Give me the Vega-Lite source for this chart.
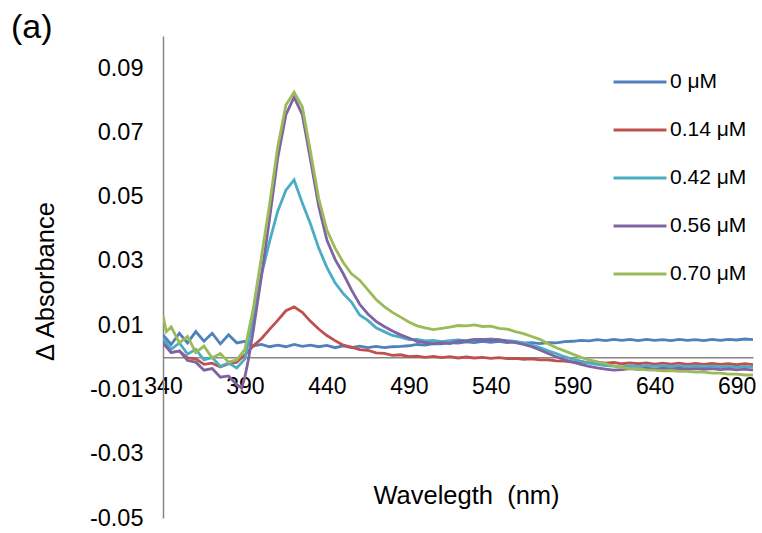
{
  "$schema": "https://vega.github.io/schema/vega-lite/v6.json",
  "autosize": "none",
  "width": 590,
  "height": 482,
  "padding": {"left": 163, "top": 36, "right": 9, "bottom": 15},
  "background": "white",
  "title": {"text": "(a)", "anchor": "start", "frame": "group", "dx": -152, "dy": 32, "offset": 6, "baseline": "middle", "fontSize": 34, "fontWeight": "normal", "font": "Liberation Sans", "color": "#000000"},
  "config": {
    "view": {"stroke": null},
    "font": "Liberation Sans"
  },
  "data": {"values": [
{"nm":340,"s":"0 μM","v":0.007},{"nm":345,"s":"0 μM","v":0.004},{"nm":350,"s":"0 μM","v":0.0075},{"nm":355,"s":"0 μM","v":0.0045},{"nm":360,"s":"0 μM","v":0.008},{"nm":365,"s":"0 μM","v":0.005},{"nm":370,"s":"0 μM","v":0.0075},{"nm":375,"s":"0 μM","v":0.0042},{"nm":380,"s":"0 μM","v":0.007},{"nm":385,"s":"0 μM","v":0.0045},{"nm":390,"s":"0 μM","v":0.005},{"nm":395,"s":"0 μM","v":0.0035},{"nm":400,"s":"0 μM","v":0.004},{"nm":405,"s":"0 μM","v":0.0033},{"nm":410,"s":"0 μM","v":0.0038},{"nm":415,"s":"0 μM","v":0.0033},{"nm":420,"s":"0 μM","v":0.004},{"nm":425,"s":"0 μM","v":0.0034},{"nm":430,"s":"0 μM","v":0.0038},{"nm":435,"s":"0 μM","v":0.0033},{"nm":440,"s":"0 μM","v":0.0037},{"nm":445,"s":"0 μM","v":0.003},{"nm":450,"s":"0 μM","v":0.0036},{"nm":455,"s":"0 μM","v":0.003},{"nm":460,"s":"0 μM","v":0.0035},{"nm":465,"s":"0 μM","v":0.003},{"nm":470,"s":"0 μM","v":0.0034},{"nm":475,"s":"0 μM","v":0.003},{"nm":480,"s":"0 μM","v":0.0033},{"nm":485,"s":"0 μM","v":0.0034},{"nm":490,"s":"0 μM","v":0.0036},{"nm":495,"s":"0 μM","v":0.004},{"nm":500,"s":"0 μM","v":0.0038},{"nm":505,"s":"0 μM","v":0.0043},{"nm":510,"s":"0 μM","v":0.0042},{"nm":515,"s":"0 μM","v":0.0046},{"nm":520,"s":"0 μM","v":0.0044},{"nm":525,"s":"0 μM","v":0.0048},{"nm":530,"s":"0 μM","v":0.0046},{"nm":535,"s":"0 μM","v":0.005},{"nm":540,"s":"0 μM","v":0.0047},{"nm":545,"s":"0 μM","v":0.005},{"nm":550,"s":"0 μM","v":0.0046},{"nm":555,"s":"0 μM","v":0.0048},{"nm":560,"s":"0 μM","v":0.0044},{"nm":565,"s":"0 μM","v":0.0046},{"nm":570,"s":"0 μM","v":0.0043},{"nm":575,"s":"0 μM","v":0.0046},{"nm":580,"s":"0 μM","v":0.0045},{"nm":585,"s":"0 μM","v":0.0049},{"nm":590,"s":"0 μM","v":0.005},{"nm":595,"s":"0 μM","v":0.0053},{"nm":600,"s":"0 μM","v":0.0051},{"nm":605,"s":"0 μM","v":0.0055},{"nm":610,"s":"0 μM","v":0.0052},{"nm":615,"s":"0 μM","v":0.0056},{"nm":620,"s":"0 μM","v":0.0053},{"nm":625,"s":"0 μM","v":0.0056},{"nm":630,"s":"0 μM","v":0.0052},{"nm":635,"s":"0 μM","v":0.0056},{"nm":640,"s":"0 μM","v":0.0053},{"nm":645,"s":"0 μM","v":0.0055},{"nm":650,"s":"0 μM","v":0.0052},{"nm":655,"s":"0 μM","v":0.0056},{"nm":660,"s":"0 μM","v":0.0053},{"nm":665,"s":"0 μM","v":0.0055},{"nm":670,"s":"0 μM","v":0.0052},{"nm":675,"s":"0 μM","v":0.0056},{"nm":680,"s":"0 μM","v":0.0053},{"nm":685,"s":"0 μM","v":0.0056},{"nm":690,"s":"0 μM","v":0.0054},{"nm":695,"s":"0 μM","v":0.0057},{"nm":700,"s":"0 μM","v":0.0055},
{"nm":340,"s":"0.14 μM","v":0.0045},{"nm":345,"s":"0.14 μM","v":0.0015},{"nm":350,"s":"0.14 μM","v":0.002},{"nm":355,"s":"0.14 μM","v":-0.0002},{"nm":360,"s":"0.14 μM","v":-0.0005},{"nm":365,"s":"0.14 μM","v":-0.0022},{"nm":370,"s":"0.14 μM","v":-0.0018},{"nm":375,"s":"0.14 μM","v":-0.003},{"nm":380,"s":"0.14 μM","v":-0.002},{"nm":385,"s":"0.14 μM","v":-0.0015},{"nm":390,"s":"0.14 μM","v":0.0008},{"nm":395,"s":"0.14 μM","v":0.0035},{"nm":400,"s":"0.14 μM","v":0.0058},{"nm":405,"s":"0.14 μM","v":0.0087},{"nm":410,"s":"0.14 μM","v":0.0115},{"nm":415,"s":"0.14 μM","v":0.0145},{"nm":420,"s":"0.14 μM","v":0.0157},{"nm":425,"s":"0.14 μM","v":0.014},{"nm":430,"s":"0.14 μM","v":0.0112},{"nm":435,"s":"0.14 μM","v":0.0088},{"nm":440,"s":"0.14 μM","v":0.0068},{"nm":445,"s":"0.14 μM","v":0.0052},{"nm":450,"s":"0.14 μM","v":0.0038},{"nm":455,"s":"0.14 μM","v":0.0032},{"nm":460,"s":"0.14 μM","v":0.0024},{"nm":465,"s":"0.14 μM","v":0.0022},{"nm":470,"s":"0.14 μM","v":0.0014},{"nm":475,"s":"0.14 μM","v":0.0012},{"nm":480,"s":"0.14 μM","v":0.0006},{"nm":485,"s":"0.14 μM","v":0.0008},{"nm":490,"s":"0.14 μM","v":0.0002},{"nm":495,"s":"0.14 μM","v":0.0004},{"nm":500,"s":"0.14 μM","v":0.0},{"nm":505,"s":"0.14 μM","v":0.0003},{"nm":510,"s":"0.14 μM","v":-0.0001},{"nm":515,"s":"0.14 μM","v":0.0002},{"nm":520,"s":"0.14 μM","v":-0.0002},{"nm":525,"s":"0.14 μM","v":0.0001},{"nm":530,"s":"0.14 μM","v":-0.0002},{"nm":535,"s":"0.14 μM","v":0.0},{"nm":540,"s":"0.14 μM","v":-0.0003},{"nm":545,"s":"0.14 μM","v":-0.0001},{"nm":550,"s":"0.14 μM","v":-0.0004},{"nm":555,"s":"0.14 μM","v":-0.0003},{"nm":560,"s":"0.14 μM","v":-0.0006},{"nm":565,"s":"0.14 μM","v":-0.0005},{"nm":570,"s":"0.14 μM","v":-0.0008},{"nm":575,"s":"0.14 μM","v":-0.0008},{"nm":580,"s":"0.14 μM","v":-0.0011},{"nm":585,"s":"0.14 μM","v":-0.0012},{"nm":590,"s":"0.14 μM","v":-0.0015},{"nm":595,"s":"0.14 μM","v":-0.0014},{"nm":600,"s":"0.14 μM","v":-0.0017},{"nm":605,"s":"0.14 μM","v":-0.0015},{"nm":610,"s":"0.14 μM","v":-0.0018},{"nm":615,"s":"0.14 μM","v":-0.0016},{"nm":620,"s":"0.14 μM","v":-0.002},{"nm":625,"s":"0.14 μM","v":-0.0017},{"nm":630,"s":"0.14 μM","v":-0.002},{"nm":635,"s":"0.14 μM","v":-0.0017},{"nm":640,"s":"0.14 μM","v":-0.0021},{"nm":645,"s":"0.14 μM","v":-0.0018},{"nm":650,"s":"0.14 μM","v":-0.0021},{"nm":655,"s":"0.14 μM","v":-0.0018},{"nm":660,"s":"0.14 μM","v":-0.0022},{"nm":665,"s":"0.14 μM","v":-0.0019},{"nm":670,"s":"0.14 μM","v":-0.0022},{"nm":675,"s":"0.14 μM","v":-0.0019},{"nm":680,"s":"0.14 μM","v":-0.0022},{"nm":685,"s":"0.14 μM","v":-0.002},{"nm":690,"s":"0.14 μM","v":-0.0023},{"nm":695,"s":"0.14 μM","v":-0.002},{"nm":700,"s":"0.14 μM","v":-0.0023},
{"nm":340,"s":"0.42 μM","v":0.006},{"nm":345,"s":"0.42 μM","v":0.0025},{"nm":350,"s":"0.42 μM","v":0.0045},{"nm":355,"s":"0.42 μM","v":0.001},{"nm":360,"s":"0.42 μM","v":0.0025},{"nm":365,"s":"0.42 μM","v":-0.0008},{"nm":370,"s":"0.42 μM","v":0.0},{"nm":375,"s":"0.42 μM","v":-0.0028},{"nm":380,"s":"0.42 μM","v":-0.0018},{"nm":385,"s":"0.42 μM","v":-0.0033},{"nm":390,"s":"0.42 μM","v":-0.0005},{"nm":395,"s":"0.42 μM","v":0.0116},{"nm":400,"s":"0.42 μM","v":0.0255},{"nm":405,"s":"0.42 μM","v":0.036},{"nm":410,"s":"0.42 μM","v":0.0455},{"nm":415,"s":"0.42 μM","v":0.052},{"nm":420,"s":"0.42 μM","v":0.0552},{"nm":425,"s":"0.42 μM","v":0.048},{"nm":430,"s":"0.42 μM","v":0.0415},{"nm":435,"s":"0.42 μM","v":0.034},{"nm":440,"s":"0.42 μM","v":0.028},{"nm":445,"s":"0.42 μM","v":0.0232},{"nm":450,"s":"0.42 μM","v":0.0198},{"nm":455,"s":"0.42 μM","v":0.0172},{"nm":460,"s":"0.42 μM","v":0.0132},{"nm":465,"s":"0.42 μM","v":0.0115},{"nm":470,"s":"0.42 μM","v":0.0092},{"nm":475,"s":"0.42 μM","v":0.008},{"nm":480,"s":"0.42 μM","v":0.0068},{"nm":485,"s":"0.42 μM","v":0.0063},{"nm":490,"s":"0.42 μM","v":0.0055},{"nm":495,"s":"0.42 μM","v":0.0056},{"nm":500,"s":"0.42 μM","v":0.0051},{"nm":505,"s":"0.42 μM","v":0.0053},{"nm":510,"s":"0.42 μM","v":0.0049},{"nm":515,"s":"0.42 μM","v":0.0052},{"nm":520,"s":"0.42 μM","v":0.0054},{"nm":525,"s":"0.42 μM","v":0.0052},{"nm":530,"s":"0.42 μM","v":0.0056},{"nm":535,"s":"0.42 μM","v":0.0055},{"nm":540,"s":"0.42 μM","v":0.0057},{"nm":545,"s":"0.42 μM","v":0.0054},{"nm":550,"s":"0.42 μM","v":0.0052},{"nm":555,"s":"0.42 μM","v":0.005},{"nm":560,"s":"0.42 μM","v":0.0045},{"nm":565,"s":"0.42 μM","v":0.0038},{"nm":570,"s":"0.42 μM","v":0.003},{"nm":575,"s":"0.42 μM","v":0.002},{"nm":580,"s":"0.42 μM","v":0.0012},{"nm":585,"s":"0.42 μM","v":0.0002},{"nm":590,"s":"0.42 μM","v":-0.0006},{"nm":595,"s":"0.42 μM","v":-0.0012},{"nm":600,"s":"0.42 μM","v":-0.0018},{"nm":605,"s":"0.42 μM","v":-0.0022},{"nm":610,"s":"0.42 μM","v":-0.0026},{"nm":615,"s":"0.42 μM","v":-0.0027},{"nm":620,"s":"0.42 μM","v":-0.003},{"nm":625,"s":"0.42 μM","v":-0.0026},{"nm":630,"s":"0.42 μM","v":-0.0029},{"nm":635,"s":"0.42 μM","v":-0.0025},{"nm":640,"s":"0.42 μM","v":-0.0028},{"nm":645,"s":"0.42 μM","v":-0.0025},{"nm":650,"s":"0.42 μM","v":-0.0028},{"nm":655,"s":"0.42 μM","v":-0.0026},{"nm":660,"s":"0.42 μM","v":-0.0029},{"nm":665,"s":"0.42 μM","v":-0.0027},{"nm":670,"s":"0.42 μM","v":-0.003},{"nm":675,"s":"0.42 μM","v":-0.0027},{"nm":680,"s":"0.42 μM","v":-0.003},{"nm":685,"s":"0.42 μM","v":-0.0028},{"nm":690,"s":"0.42 μM","v":-0.0031},{"nm":695,"s":"0.42 μM","v":-0.0028},{"nm":700,"s":"0.42 μM","v":-0.0031},
{"nm":340,"s":"0.56 μM","v":0.0045},{"nm":345,"s":"0.56 μM","v":0.0015},{"nm":350,"s":"0.56 μM","v":0.002},{"nm":355,"s":"0.56 μM","v":-0.001},{"nm":360,"s":"0.56 μM","v":-0.0015},{"nm":365,"s":"0.56 μM","v":-0.004},{"nm":370,"s":"0.56 μM","v":-0.0035},{"nm":375,"s":"0.56 μM","v":-0.0062},{"nm":380,"s":"0.56 μM","v":-0.0058},{"nm":385,"s":"0.56 μM","v":-0.0085},{"nm":388,"s":"0.56 μM","v":-0.0096},{"nm":390,"s":"0.56 μM","v":-0.006},{"nm":392,"s":"0.56 μM","v":-0.001},{"nm":395,"s":"0.56 μM","v":0.008},{"nm":400,"s":"0.56 μM","v":0.025},{"nm":405,"s":"0.56 μM","v":0.043},{"nm":410,"s":"0.56 μM","v":0.062},{"nm":415,"s":"0.56 μM","v":0.0755},{"nm":420,"s":"0.56 μM","v":0.081},{"nm":425,"s":"0.56 μM","v":0.0755},{"nm":430,"s":"0.56 μM","v":0.0615},{"nm":435,"s":"0.56 μM","v":0.047},{"nm":440,"s":"0.56 μM","v":0.0365},{"nm":445,"s":"0.56 μM","v":0.0305},{"nm":450,"s":"0.56 μM","v":0.026},{"nm":455,"s":"0.56 μM","v":0.021},{"nm":460,"s":"0.56 μM","v":0.0165},{"nm":465,"s":"0.56 μM","v":0.0135},{"nm":470,"s":"0.56 μM","v":0.0112},{"nm":475,"s":"0.56 μM","v":0.0096},{"nm":480,"s":"0.56 μM","v":0.0082},{"nm":485,"s":"0.56 μM","v":0.007},{"nm":490,"s":"0.56 μM","v":0.006},{"nm":495,"s":"0.56 μM","v":0.005},{"nm":500,"s":"0.56 μM","v":0.0046},{"nm":505,"s":"0.56 μM","v":0.0042},{"nm":510,"s":"0.56 μM","v":0.0046},{"nm":515,"s":"0.56 μM","v":0.0043},{"nm":520,"s":"0.56 μM","v":0.005},{"nm":525,"s":"0.56 μM","v":0.0051},{"nm":530,"s":"0.56 μM","v":0.0055},{"nm":535,"s":"0.56 μM","v":0.0056},{"nm":540,"s":"0.56 μM","v":0.0054},{"nm":545,"s":"0.56 μM","v":0.0055},{"nm":550,"s":"0.56 μM","v":0.005},{"nm":555,"s":"0.56 μM","v":0.0046},{"nm":560,"s":"0.56 μM","v":0.004},{"nm":565,"s":"0.56 μM","v":0.0033},{"nm":570,"s":"0.56 μM","v":0.0023},{"nm":575,"s":"0.56 μM","v":0.0012},{"nm":580,"s":"0.56 μM","v":0.0002},{"nm":585,"s":"0.56 μM","v":-0.0008},{"nm":590,"s":"0.56 μM","v":-0.0015},{"nm":595,"s":"0.56 μM","v":-0.0022},{"nm":600,"s":"0.56 μM","v":-0.0028},{"nm":605,"s":"0.56 μM","v":-0.0033},{"nm":610,"s":"0.56 μM","v":-0.0037},{"nm":615,"s":"0.56 μM","v":-0.004},{"nm":620,"s":"0.56 μM","v":-0.0038},{"nm":625,"s":"0.56 μM","v":-0.0035},{"nm":630,"s":"0.56 μM","v":-0.0037},{"nm":635,"s":"0.56 μM","v":-0.0034},{"nm":640,"s":"0.56 μM","v":-0.0037},{"nm":645,"s":"0.56 μM","v":-0.0034},{"nm":650,"s":"0.56 μM","v":-0.0036},{"nm":655,"s":"0.56 μM","v":-0.0034},{"nm":660,"s":"0.56 μM","v":-0.0037},{"nm":665,"s":"0.56 μM","v":-0.0035},{"nm":670,"s":"0.56 μM","v":-0.0037},{"nm":675,"s":"0.56 μM","v":-0.0035},{"nm":680,"s":"0.56 μM","v":-0.0038},{"nm":685,"s":"0.56 μM","v":-0.0036},{"nm":690,"s":"0.56 μM","v":-0.0039},{"nm":695,"s":"0.56 μM","v":-0.0037},{"nm":700,"s":"0.56 μM","v":-0.004},
{"nm":340,"s":"0.70 μM","v":0.013},{"nm":342,"s":"0.70 μM","v":0.008},{"nm":345,"s":"0.70 μM","v":0.0095},{"nm":350,"s":"0.70 μM","v":0.0045},{"nm":355,"s":"0.70 μM","v":0.0065},{"nm":360,"s":"0.70 μM","v":0.0015},{"nm":365,"s":"0.70 μM","v":0.0035},{"nm":370,"s":"0.70 μM","v":-0.0002},{"nm":375,"s":"0.70 μM","v":0.0012},{"nm":380,"s":"0.70 μM","v":-0.0015},{"nm":385,"s":"0.70 μM","v":-0.0008},{"nm":390,"s":"0.70 μM","v":0.0025},{"nm":395,"s":"0.70 μM","v":0.015},{"nm":400,"s":"0.70 μM","v":0.031},{"nm":405,"s":"0.70 μM","v":0.0475},{"nm":410,"s":"0.70 μM","v":0.0655},{"nm":415,"s":"0.70 μM","v":0.0785},{"nm":420,"s":"0.70 μM","v":0.0825},{"nm":425,"s":"0.70 μM","v":0.078},{"nm":430,"s":"0.70 μM","v":0.064},{"nm":435,"s":"0.70 μM","v":0.0495},{"nm":440,"s":"0.70 μM","v":0.0396},{"nm":445,"s":"0.70 μM","v":0.034},{"nm":450,"s":"0.70 μM","v":0.0295},{"nm":455,"s":"0.70 μM","v":0.026},{"nm":460,"s":"0.70 μM","v":0.024},{"nm":465,"s":"0.70 μM","v":0.021},{"nm":470,"s":"0.70 μM","v":0.018},{"nm":475,"s":"0.70 μM","v":0.0158},{"nm":480,"s":"0.70 μM","v":0.014},{"nm":485,"s":"0.70 μM","v":0.0125},{"nm":490,"s":"0.70 μM","v":0.011},{"nm":495,"s":"0.70 μM","v":0.0098},{"nm":500,"s":"0.70 μM","v":0.0092},{"nm":505,"s":"0.70 μM","v":0.0086},{"nm":510,"s":"0.70 μM","v":0.009},{"nm":515,"s":"0.70 μM","v":0.0094},{"nm":520,"s":"0.70 μM","v":0.0099},{"nm":525,"s":"0.70 μM","v":0.0098},{"nm":530,"s":"0.70 μM","v":0.0101},{"nm":535,"s":"0.70 μM","v":0.0096},{"nm":540,"s":"0.70 μM","v":0.0097},{"nm":545,"s":"0.70 μM","v":0.009},{"nm":550,"s":"0.70 μM","v":0.0088},{"nm":555,"s":"0.70 μM","v":0.008},{"nm":560,"s":"0.70 μM","v":0.0074},{"nm":565,"s":"0.70 μM","v":0.0065},{"nm":570,"s":"0.70 μM","v":0.0056},{"nm":575,"s":"0.70 μM","v":0.0042},{"nm":580,"s":"0.70 μM","v":0.003},{"nm":585,"s":"0.70 μM","v":0.002},{"nm":590,"s":"0.70 μM","v":0.001},{"nm":595,"s":"0.70 μM","v":0.0},{"nm":600,"s":"0.70 μM","v":-0.0008},{"nm":605,"s":"0.70 μM","v":-0.0014},{"nm":610,"s":"0.70 μM","v":-0.002},{"nm":615,"s":"0.70 μM","v":-0.0027},{"nm":620,"s":"0.70 μM","v":-0.0032},{"nm":625,"s":"0.70 μM","v":-0.0035},{"nm":630,"s":"0.70 μM","v":-0.0036},{"nm":635,"s":"0.70 μM","v":-0.0039},{"nm":640,"s":"0.70 μM","v":-0.004},{"nm":645,"s":"0.70 μM","v":-0.0042},{"nm":650,"s":"0.70 μM","v":-0.0041},{"nm":655,"s":"0.70 μM","v":-0.0044},{"nm":660,"s":"0.70 μM","v":-0.0044},{"nm":665,"s":"0.70 μM","v":-0.0046},{"nm":670,"s":"0.70 μM","v":-0.0046},{"nm":675,"s":"0.70 μM","v":-0.0049},{"nm":680,"s":"0.70 μM","v":-0.0049},{"nm":685,"s":"0.70 μM","v":-0.0052},{"nm":690,"s":"0.70 μM","v":-0.0052},{"nm":695,"s":"0.70 μM","v":-0.0055},{"nm":700,"s":"0.70 μM","v":-0.0055}
  ]},
  "mark": {"type": "line", "strokeWidth": 2.8, "clip": true},
  "encoding": {
    "x": {
      "field": "nm", "type": "quantitative",
      "scale": {"domain": [340, 700], "nice": false, "zero": false},
      "axis": {
        "title": "Wavelegth \u00a0(nm)", "values": [340, 390, 440, 490, 540, 590, 640, 690],
        "offset": -160.67, "grid": false, "ticks": false, "tickSize": 0,
        "domainColor": "#868686", "domainWidth": 1.5,
        "labelFont": "Liberation Sans", "labelFontSize": 23, "labelColor": "#000000", "labelPadding": 18,
        "labelFlush": false, "labelOverlap": false,
        "titleFont": "Liberation Sans", "titleFontSize": 25.5, "titleFontWeight": "normal", "titleColor": "#000000",
        "titleX": 303, "titleY": 138, "titleBaseline": "middle", "titleAlign": "center"
      }
    },
    "y": {
      "field": "v", "type": "quantitative",
      "scale": {"domain": [-0.05, 0.1], "nice": false, "zero": false},
      "axis": {
        "title": "Δ Absorbance", "values": [-0.05, -0.03, -0.01, 0.01, 0.03, 0.05, 0.07, 0.09],
        "labelExpr": "replace(format(datum.value, '.2f'), '\u2212', '-')",
        "grid": false, "ticks": false, "tickSize": 0,
        "domainColor": "#868686", "domainWidth": 1.5,
        "labelFont": "Liberation Sans", "labelFontSize": 23.5, "labelColor": "#000000", "labelPadding": 20,
        "labelOverlap": false, "labelFlush": false,
        "titleFont": "Liberation Sans", "titleFontSize": 25.5, "titleFontWeight": "normal", "titleColor": "#000000",
        "titleX": -118, "titleY": 245, "titleBaseline": "middle", "titleAlign": "center", "titleAngle": -90
      }
    },
    "color": {
      "field": "s", "type": "nominal",
      "scale": {"domain": ["0 μM", "0.14 μM", "0.42 μM", "0.56 μM", "0.70 μM"], "range": ["#4F81BD", "#C0504D", "#4BACC6", "#8064A2", "#9BBB59"]},
      "legend": {
        "orient": "none", "legendX": 449, "legendY": 23, "title": null,
        "symbolType": "stroke", "symbolSize": 2809, "symbolStrokeWidth": 3,
        "labelFont": "Liberation Sans", "labelFontSize": 21, "labelColor": "#000000",
        "labelOffset": 2, "rowPadding": 2, "clipHeight": 46
      }
    }
  }
}
